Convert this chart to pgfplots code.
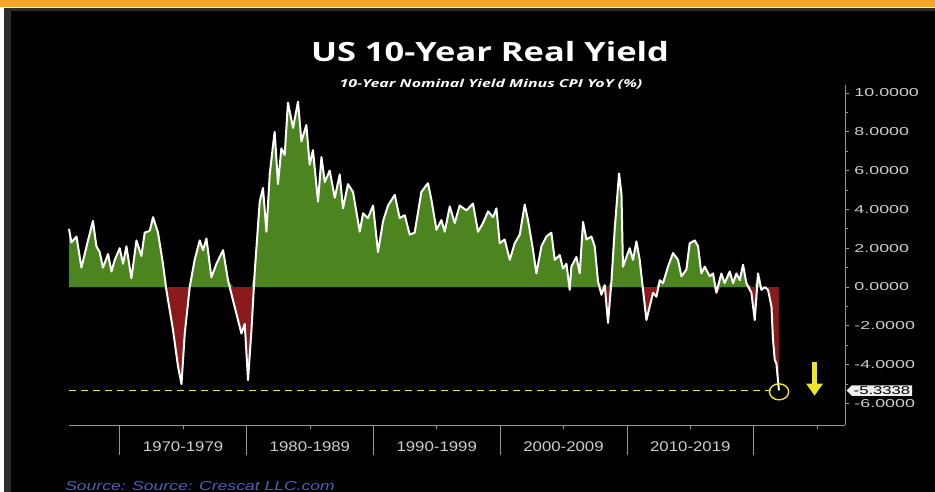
\documentclass[border=0pt]{standalone}
\usepackage{pgfplots}
\pgfplotsset{compat=1.18}
\usepackage{pgfplotstable}
\usepackage{fontspec}
\usetikzlibrary{arrows.meta,shapes.symbols}
\setmainfont{Liberation Sans}
\newfontfamily\lib{Liberation Sans}
\newfontfamily\osans{Open Sans}
\definecolor{topor}{RGB}{245,166,35}
\definecolor{edge}{RGB}{45,45,45}
\definecolor{posg}{RGB}{76,132,32}
\definecolor{negr}{RGB}{139,26,26}
\definecolor{axg}{RGB}{150,150,150}
\definecolor{tlab}{RGB}{205,205,205}
\definecolor{yel}{RGB}{235,230,40}
\definecolor{srcblue}{RGB}{80,95,180}
\pgfplotstableread{
x y
1966.00 3.0
1966.19 2.3
1966.59 2.6
1966.98 1.0
1967.50 2.4
1967.89 3.4
1968.16 2.1
1968.42 1.8
1968.68 1.0
1969.08 1.7
1969.35 0.8
1969.61 1.4
1970.00 2.0
1970.26 1.2
1970.53 2.1
1970.92 0.45
1971.32 2.4
1971.71 1.6
1971.97 2.8
1972.37 2.9
1972.63 3.6
1973.02 2.8
1973.41 1.2
1973.68 -0.15
1974.20 -2.2
1974.60 -4.1
1974.87 -5.0
1975.13 -2.4
1975.52 0.0
1975.91 1.4
1976.31 2.4
1976.57 1.9
1976.84 2.5
1977.23 0.5
1977.63 1.2
1978.15 1.9
1978.54 0.35
1978.94 -0.7
1979.33 -1.7
1979.60 -2.4
1979.86 -1.9
1980.12 -4.8
1980.39 -2.2
1980.65 0.8
1981.04 4.4
1981.30 5.1
1981.57 2.85
1981.83 5.8
1982.09 7.3
1982.22 8.0
1982.48 5.3
1982.75 7.15
1983.01 6.8
1983.27 9.5
1983.67 8.2
1984.06 9.55
1984.33 7.5
1984.72 8.35
1984.98 6.3
1985.24 7.05
1985.64 4.4
1985.91 6.7
1986.17 5.4
1986.56 6.0
1986.96 4.6
1987.35 5.8
1987.61 4.05
1988.00 5.3
1988.40 4.9
1988.93 2.85
1989.19 3.8
1989.58 3.55
1989.98 4.2
1990.37 1.8
1990.77 3.4
1991.16 4.2
1991.69 4.75
1992.08 3.55
1992.48 3.7
1992.87 2.7
1993.26 2.8
1993.79 4.9
1994.31 5.35
1994.58 4.5
1994.98 2.95
1995.37 3.45
1995.63 2.85
1996.03 4.15
1996.42 3.3
1996.81 4.2
1997.34 3.95
1997.86 4.3
1998.26 2.85
1998.65 3.3
1999.05 3.9
1999.44 3.6
1999.71 4.05
1999.97 2.25
2000.36 2.45
2000.76 1.4
2001.15 2.25
2001.55 2.7
2001.94 4.25
2002.20 3.45
2002.60 1.9
2002.86 0.7
2003.26 2.1
2003.65 2.6
2004.04 2.8
2004.31 1.4
2004.70 1.65
2004.96 0.95
2005.23 1.2
2005.49 -0.15
2005.62 1.05
2006.02 1.55
2006.28 0.7
2006.54 3.35
2006.81 2.45
2007.20 2.6
2007.46 2.1
2007.72 0.3
2007.99 -0.4
2008.25 0.1
2008.51 -1.85
2008.78 0.3
2009.04 3.0
2009.38 5.85
2009.57 4.8
2009.69 1.05
2009.96 1.55
2010.22 2.0
2010.48 1.4
2010.75 2.35
2011.01 1.4
2011.27 -0.15
2011.54 -1.7
2011.80 -1.0
2012.06 -0.3
2012.33 -0.5
2012.59 0.35
2012.85 0.2
2013.24 1.05
2013.64 1.75
2014.03 1.4
2014.30 0.55
2014.69 0.9
2014.95 2.25
2015.35 2.4
2015.61 2.1
2015.87 0.7
2016.14 1.05
2016.53 0.55
2016.79 0.7
2017.06 -0.3
2017.45 0.7
2017.71 0.2
2018.11 0.8
2018.37 0.2
2018.64 0.7
2018.90 0.35
2019.16 1.15
2019.42 0.2
2019.82 -0.3
2020.08 -1.7
2020.34 0.7
2020.61 -0.15
2020.87 0.0
2021.13 -0.15
2021.40 -1.0
2021.52 -2.7
2021.66 -3.75
2021.79 -3.95
2021.99 -5.33
}\ryield
\begin{document}
\begin{tikzpicture}[x=1pt,y=1pt]
\fill[white] (0,0) rectangle (935,492);
\fill[topor] (0,485) rectangle (935,492);
\fill[edge] (4,0) rectangle (935,484);
\fill[black] (11,0) rectangle (935,481);
\begin{axis}[
  at={(69pt,67pt)}, anchor=south west,
  width=776pt, height=340pt, scale only axis,
  xmin=1966, xmax=2027.2, ymin=-7.11, ymax=10.41,
  clip=false,
  axis x line*=bottom, axis y line*=right,
  axis line style={axg, line width=0.8pt, -},
  tick align=outside,
  major tick length=4pt, minor tick length=2.5pt,
  xtick={1975,1985,1995,2005,2015,2025},
  xticklabels={1970-1979,1980-1989,1990-1999,2000-2009,2010-2019,},
  x tick style={axg, line width=0.8pt},
  xticklabel style={font=\lib\fontsize{14}{16}\selectfont, text=tlab, xscale=1.2, yshift=-9pt},
  extra x ticks={1970,1980,1990,2000,2010,2020},
  extra x tick labels={},
  extra x tick style={major tick length=30pt},
  ytick={-6,-4,...,10},
  minor y tick num=1,
  y tick style={axg, line width=0.8pt},
  yticklabel style={font=\lib\fontsize{11.5}{13}\selectfont, text=tlab, xscale=1.55, anchor=west, xshift=0pt},
  /pgf/number format/assume math mode=true,
  /pgf/number format/.cd, fixed, fixed zerofill, precision=4,
]
\addplot[draw=none, fill=posg, y filter/.expression={y<0 ? 0 : y}] table[x=x,y=y] {\ryield} \closedcycle;
\addplot[draw=none, fill=negr, y filter/.expression={y>0 ? 0 : y}] table[x=x,y=y] {\ryield} \closedcycle;
\addplot[white, line width=2pt, line join=round] table[x=x,y=y] {\ryield};
\addplot[yel, line width=1.4pt, dash pattern=on 7pt off 5pt] coordinates {(1966,-5.3338) (2021.4,-5.3338)};
\addplot[only marks, mark=o, mark size=8pt, mark options={yel, line width=1.4pt, xscale=1.2}] coordinates {(2022.0,-5.40)};
\draw[-{Triangle[width=16pt,length=12pt]}, line width=4.5pt, yel] (axis cs:2024.8,-3.85) -- (axis cs:2024.8,-5.6);
\node[signal, signal to=west, signal pointer angle=110, fill=white!93!black, text=black, font=\lib\fontsize{11.5}{13}\selectfont, inner sep=1.2pt, anchor=west, xscale=1.45] at (axis cs:2027.3,-5.3338) {-5.3338};
\end{axis}
\node[text=white, font=\osans\bfseries\fontsize{26.5}{30}\selectfont, xscale=1.3] at (490,440) {US 10-Year Real Yield};
\node[text=white, font=\osans\bfseries\itshape\fontsize{11}{13}\selectfont, xscale=1.45] at (491,408) {10-Year Nominal Yield Minus CPI YoY (\%)};
\node[text=srcblue, font=\lib\itshape\fontsize{13}{15}\selectfont, anchor=south west, xscale=1.35, inner sep=0pt] at (65,1.5) {Source: Source: Crescat LLC.com};
\pgfresetboundingbox
\path[use as bounding box] (0,0) rectangle (935,492);
\end{tikzpicture}
\end{document}
